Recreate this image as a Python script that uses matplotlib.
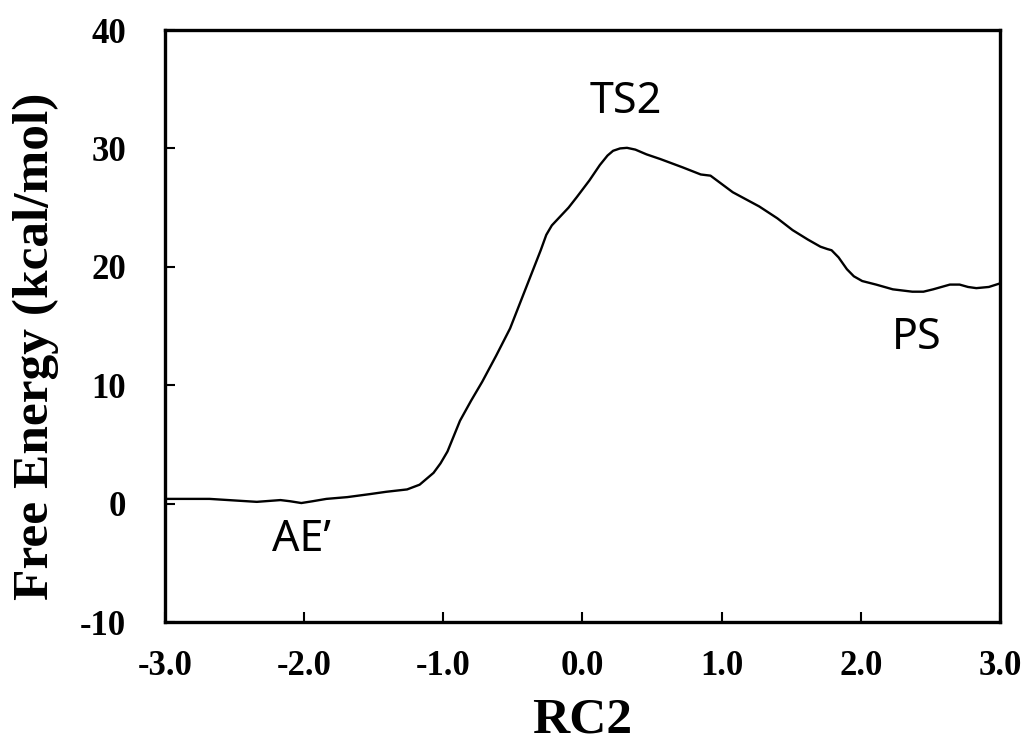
import numpy as np
import matplotlib
matplotlib.use('Agg')
import matplotlib.pyplot as plt

plt.rcParams['axes.unicode_minus'] = False

# free energy profile
rc2 = [-3.00, -2.68, -2.34, -2.17, -2.10, -2.02, -1.94, -1.84, -1.69, -1.53,
       -1.41, -1.26, -1.17, -1.10, -1.07, -1.02, -0.97, -0.88, -0.80, -0.72,
       -0.62, -0.52, -0.44, -0.36, -0.30, -0.26, -0.22, -0.18, -0.10, -0.04,
       0.05, 0.125, 0.18, 0.22, 0.27, 0.32, 0.38, 0.46, 0.56, 0.72,
       0.85, 0.92, 1.00, 1.08, 1.27, 1.40, 1.51, 1.62, 1.71, 1.76,
       1.79, 1.84, 1.90, 1.95, 2.01, 2.11, 2.23, 2.37, 2.45, 2.52,
       2.64, 2.71, 2.77, 2.83, 2.92, 3.00]
energy = [0.40, 0.40, 0.15, 0.30, 0.20, 0.05, 0.20, 0.40, 0.55, 0.80,
          1.00, 1.20, 1.60, 2.30, 2.60, 3.40, 4.40, 7.00, 8.70, 10.3,
          12.5, 14.8, 17.2, 19.6, 21.4, 22.7, 23.5, 24.0, 25.0, 25.9,
          27.3, 28.6, 29.4, 29.8, 30.0, 30.05, 29.9, 29.5, 29.1, 28.4,
          27.8, 27.7, 27.0, 26.3, 25.1, 24.1, 23.1, 22.3, 21.7, 21.5,
          21.4, 20.8, 19.8, 19.2, 18.8, 18.5, 18.1, 17.9, 17.9, 18.1,
          18.5, 18.5, 18.3, 18.2, 18.3, 18.6]

labels = ['TS2', 'AE\u2019', 'PS']
label_x = [0.31, -2.02, 2.40]
label_y = [33.9, -3.1, 14.0]

xticks = [-3.0, -2.0, -1.0, 0.0, 1.0, 2.0, 3.0]
yticks = [-10, 0, 10, 20, 30, 40]

fig = plt.figure(figsize=(10.29, 7.47), dpi=100)
ax = fig.add_axes([0.1603, 0.1673, 0.8115, 0.7925])

ax.plot(rc2, energy, color='black', lw=1.7)

for t, x, y in zip(labels, label_x, label_y):
    ax.text(x, y, t, fontsize=31, family='Noto Sans', ha='center', va='center')

ax.set_xlim(-3, 3)
ax.set_ylim(-10, 40)
ax.set_xticks(xticks)
ax.set_xticklabels(['%.1f' % v for v in xticks])
ax.set_yticks(yticks)
ax.set_yticklabels([str(v) for v in yticks])

for s in ax.spines.values():
    s.set_linewidth(2.4)
ax.tick_params(direction='in', length=7, width=1.5, top=False, right=False)
ax.tick_params(axis='x', pad=20)
ax.tick_params(axis='y', pad=28)
for lab in ax.get_xticklabels() + ax.get_yticklabels():
    lab.set_family('Liberation Serif')
    lab.set_weight('bold')
    lab.set_fontsize(25)

ax.set_xlabel('RC2', family='Liberation Serif', weight='bold', fontsize=37)
ax.set_ylabel('Free Energy (kcal/mol)', family='Liberation Serif', weight='bold',
              fontsize=37)
ax.xaxis.set_label_coords(0.5, -0.128)
ax.yaxis.set_label_coords(-0.127, 0.465)

fig.savefig('out.png', dpi=100)
